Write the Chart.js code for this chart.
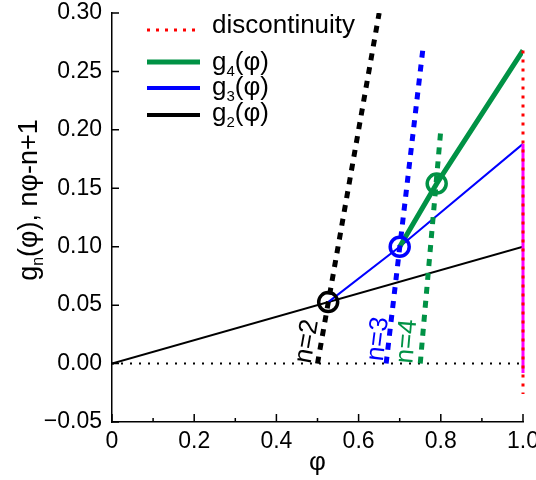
<!DOCTYPE html>
<html>
<head>
<meta charset="utf-8">
<script src="https://cdn.jsdelivr.net/npm/chart.js@4"></script>
<style>
  html, body { margin: 0; padding: 0; background: #fff; }
</style>
</head>
<body>
<canvas id="myChart" width="536" height="480"></canvas>
<script>
// 축 눈금
const xTickValues = [0, 0.2, 0.4, 0.6, 0.8, 1.0];
const xTickLabels = ["0", "0.2", "0.4", "0.6", "0.8", "1.0"];
const xMinorTicks = [0.1, 0.3, 0.5, 0.7, 0.9];
const yTickValues = [-0.05, 0, 0.05, 0.1, 0.15, 0.2, 0.25, 0.3];
const yTickLabels = ["\u22120.05", "0.00", "0.05", "0.10", "0.15", "0.20", "0.25", "0.30"];

// g_n(φ) 곡선
const phiG2 = [0, 1.0];
const g2 = [0, 0.1];
const phiG3 = [0.526, 0.7, 1.0];
const g3 = [0.0526, 0.1, 0.188];
const phiG4 = [0.7, 0.79, 1.0];
const g4 = [0.1, 0.154, 0.268];

// nφ-n+1 직선
const phiN2 = [0.5, 0.65];
const lineN2 = [0, 0.3];
const phiN3 = [0.667, 0.757];
const lineN3 = [0, 0.271];
const phiN4 = [0.75, 0.8];
const lineN4 = [0, 0.2];

// φ=1 에서의 점프
const phiEdge = [1.0, 1.0];
const jumpG3 = [0.188, -0.008];
const discontinuity = [0.268, -0.026];

// 교차점
const crossPhi = [0.526, 0.7, 0.79];
const crossY = [0.0526, 0.1, 0.154];

// 0 기준선
const phiZero = [0, 1.0];
const zeroLine = [0, 0];

const FONT = '"Liberation Sans", Arial, sans-serif';
const GREEN = "rgb(0,146,69)";
const BLUE = "#0000ff";

function pts(xs, ys) {
  return xs.map((x, i) => ({ x: x, y: ys[i] }));
}

function line(xs, ys, color, width, dash) {
  return {
    data: pts(xs, ys),
    showLine: true,
    borderColor: color,
    borderWidth: width,
    borderDash: dash || [],
    pointRadius: 0,
    fill: false,
  };
}

// 아래첨자 텍스트 그리기
function drawParts(ctx, x, y, parts, size, measureOnly) {
  let cx = x;
  parts.forEach(function (p) {
    const sub = p[1];
    ctx.font = (sub ? Math.round(size * 0.58) : size) + "px " + FONT;
    if (!measureOnly) ctx.fillText(p[0], cx, sub ? y + size * 0.22 : y);
    cx += ctx.measureText(p[0]).width;
  });
  return cx - x;
}

const legendItems = [
  { parts: [["discontinuity", false]], color: "#ff0000", width: 3, dash: [3, 6], y: 30, base: 33 },
  { parts: [["g", false], ["4", true], ["(\u03c6)", false]], color: GREEN, width: 5, dash: [], y: 62, base: 70 },
  { parts: [["g", false], ["3", true], ["(\u03c6)", false]], color: BLUE, width: 4, dash: [], y: 88, base: 95 },
  { parts: [["g", false], ["2", true], ["(\u03c6)", false]], color: "#000", width: 4, dash: [], y: 115, base: 121 },
];

const lineLabels = [
  { text: "n=2", phi: 0.475, y: 0.019, angle: -80, color: "#000" },
  { text: "n=3", phi: 0.648, y: 0.021, angle: -83, color: BLUE },
  { text: "n=4", phi: 0.718, y: 0.019, angle: -85, color: GREEN },
];

const extras = {
  id: "extras",
  afterDraw(chart) {
    const ctx = chart.ctx;
    const xs = chart.scales.x;
    const ys = chart.scales.y;
    const area = chart.chartArea;
    ctx.save();

    // 안쪽 눈금
    ctx.strokeStyle = "#000";
    ctx.lineWidth = 1.5;
    ctx.beginPath();
    xTickValues.forEach(function (v) {
      const px = xs.getPixelForValue(v);
      ctx.moveTo(px, area.bottom);
      ctx.lineTo(px, area.bottom - 8);
    });
    xMinorTicks.forEach(function (v) {
      const px = xs.getPixelForValue(v);
      ctx.moveTo(px, area.bottom);
      ctx.lineTo(px, area.bottom - 4);
    });
    yTickValues.forEach(function (v) {
      const py = ys.getPixelForValue(v);
      ctx.moveTo(area.left, py);
      ctx.lineTo(area.left + 7, py);
    });
    ctx.stroke();

    // n=2, n=3, n=4 라벨
    ctx.textAlign = "center";
    ctx.textBaseline = "middle";
    ctx.font = "26px " + FONT;
    lineLabels.forEach(function (l) {
      ctx.save();
      ctx.translate(xs.getPixelForValue(l.phi), ys.getPixelForValue(l.y));
      ctx.rotate((l.angle * Math.PI) / 180);
      ctx.fillStyle = l.color;
      ctx.fillText(l.text, 0, 0);
      ctx.restore();
    });

    // 범례
    ctx.textAlign = "left";
    ctx.textBaseline = "alphabetic";
    legendItems.forEach(function (item) {
      ctx.beginPath();
      ctx.strokeStyle = item.color;
      ctx.lineWidth = item.width;
      ctx.setLineDash(item.dash);
      ctx.moveTo(147, item.y);
      ctx.lineTo(200, item.y);
      ctx.stroke();
      ctx.setLineDash([]);
      ctx.fillStyle = "#000";
      drawParts(ctx, 212, item.base, item.parts, 26);
    });

    // 축 제목
    ctx.fillStyle = "#000";
    const yTitle = [["g", false], ["n", true], ["(\u03c6), n\u03c6-n+1", false]];
    const w = drawParts(ctx, 0, 0, yTitle, 27, true);
    ctx.save();
    ctx.translate(37, 200);
    ctx.rotate(-Math.PI / 2);
    drawParts(ctx, -w / 2, 0, yTitle, 27);
    ctx.restore();

    ctx.textAlign = "center";
    ctx.font = "26px " + FONT;
    ctx.fillText("\u03c6", (area.left + area.right) / 2, 470);

    ctx.restore();
  },
};

const edgeRed = line(phiEdge, discontinuity, "#ff0000", 3, [3, 6]);
edgeRed.clip = 6;
const edgeMagenta = line(phiEdge, jumpG3, "#ff00ff", 3);
edgeMagenta.clip = 6;

const ctx = document.getElementById("myChart").getContext("2d");
const myChart = new Chart(ctx, {
  type: "scatter",
  data: {
    datasets: [
      {
        data: pts(crossPhi, crossY),
        pointRadius: 9.5,
        pointHoverRadius: 9.5,
        pointBorderWidth: 3.5,
        pointBackgroundColor: "rgba(0,0,0,0)",
        pointBorderColor: ["#000", BLUE, GREEN],
        showLine: false,
      },
      edgeRed,
      edgeMagenta,
      line(phiN2, lineN2, "#000", 5, [7, 7]),
      line(phiN3, lineN3, BLUE, 5, [7, 7]),
      line(phiN4, lineN4, GREEN, 5, [7, 7]),
      line(phiG4, g4, GREEN, 5),
      line(phiG3, g3, BLUE, 2),
      line(phiG2, g2, "#000", 2),
      line(phiZero, zeroLine, "#000", 2, [2, 7]),
    ],
  },
  options: {
    responsive: false,
    animation: false,
    layout: { padding: { top: 7, right: 9, left: 0, bottom: 0 } },
    scales: {
      x: {
        type: "linear",
        min: 0,
        max: 1,
        afterBuildTicks: function (scale) {
          scale.ticks = xTickValues.map((v) => ({ value: v }));
        },
        afterFit: function (scale) {
          scale.height = 58;
          scale.paddingLeft = 0;
          scale.paddingRight = 0;
        },
        ticks: {
          padding: 6,
          color: "#000",
          maxRotation: 0,
          autoSkip: false,
          font: { family: FONT, size: 23 },
          callback: function (value, index) {
            return xTickLabels[index];
          },
        },
        grid: { display: false, drawTicks: false },
        border: { display: true, color: "#000", width: 1.5 },
      },
      y: {
        type: "linear",
        min: -0.05,
        max: 0.3,
        afterBuildTicks: function (scale) {
          scale.ticks = yTickValues.map((v) => ({ value: v }));
        },
        afterFit: function (scale) {
          scale.width = 112;
          scale.paddingTop = 0;
          scale.paddingBottom = 0;
        },
        ticks: {
          padding: 10,
          color: "#000",
          autoSkip: false,
          font: { family: FONT, size: 23 },
          callback: function (value, index) {
            return yTickLabels[index];
          },
        },
        grid: { display: false, drawTicks: false },
        border: { display: true, color: "#000", width: 1.5 },
      },
    },
    plugins: {
      legend: { display: false },
      tooltip: { enabled: false },
    },
  },
  plugins: [extras],
});
</script>
</body>
</html>
